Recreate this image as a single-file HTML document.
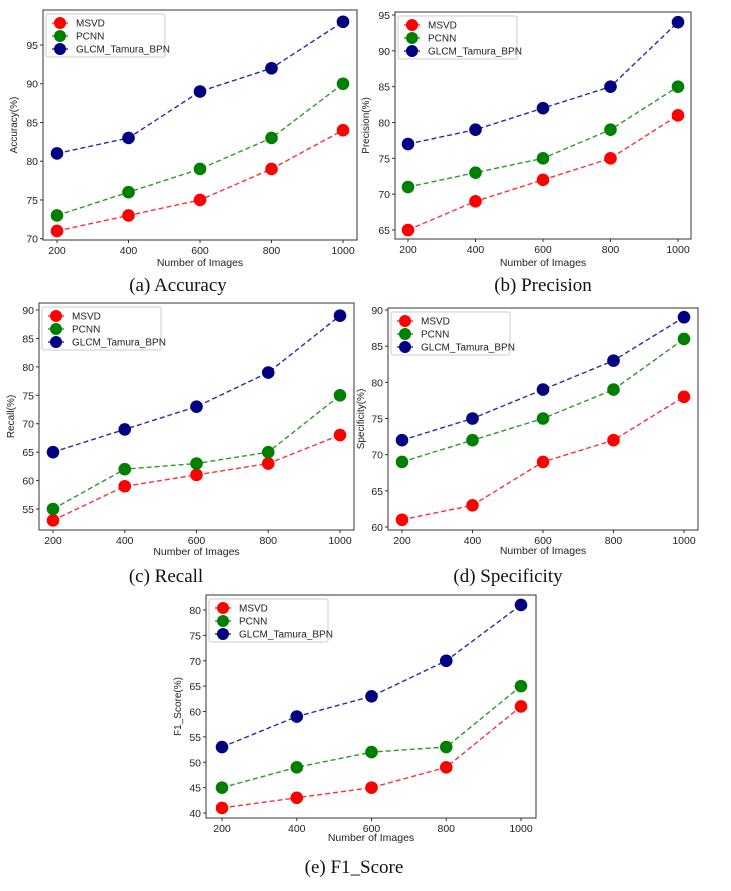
<!DOCTYPE html>
<html><head><meta charset="utf-8">
<style>
html,body{margin:0;padding:0;background:#fff;}
svg{display:block;}
</style></head>
<body>
<svg id="fig" width="731" height="891" viewBox="0 0 731 891" xmlns="http://www.w3.org/2000/svg"></svg>
<script>
const categories = [200, 400, 600, 800, 1000];
const seriesNames = ["MSVD", "PCNN", "GLCM_Tamura_BPN"];
const accMSVD = [71, 73, 75, 79, 84];
const accPCNN = [73, 76, 79, 83, 90];
const accGLCM = [81, 83, 89, 92, 98];
const accTicks = [70, 75, 80, 85, 90, 95];
const preMSVD = [65, 69, 72, 75, 81];
const prePCNN = [71, 73, 75, 79, 85];
const preGLCM = [77, 79, 82, 85, 94];
const preTicks = [65, 70, 75, 80, 85, 90, 95];
const recMSVD = [53, 59, 61, 63, 68];
const recPCNN = [55, 62, 63, 65, 75];
const recGLCM = [65, 69, 73, 79, 89];
const recTicks = [55, 60, 65, 70, 75, 80, 85, 90];
const speMSVD = [61, 63, 69, 72, 78];
const spePCNN = [69, 72, 75, 79, 86];
const speGLCM = [72, 75, 79, 83, 89];
const speTicks = [60, 65, 70, 75, 80, 85, 90];
const f1MSVD = [41, 43, 45, 49, 61];
const f1PCNN = [45, 49, 52, 53, 65];
const f1GLCM = [53, 59, 63, 70, 81];
const f1Ticks = [40, 45, 50, 55, 60, 65, 70, 75, 80];

const colors = ["#ff0000", "#008000", "#000080"];
const lineColors = ["#ff3030", "#2a9a2a", "#2a2aa8"];
const NS = "http://www.w3.org/2000/svg";
const svg = document.getElementById("fig");
function mk(tag, attrs, parent){const e=document.createElementNS(NS,tag);for(const k in attrs)e.setAttribute(k,attrs[k]);(parent||svg).appendChild(e);return e;}

function panel(id, cfg, series, ticks){
  const g = mk("g", {});
  
  
  const xs = v => cfg.x200 + (v - 200) * (cfg.x1000 - cfg.x200) / 800;
  const ys = v => cfg.yLo + (v - cfg.tLo) * (cfg.yHi - cfg.yLo) / (cfg.tHi - cfg.tLo);
  const box = mk("rect", {x:cfg.L, y:cfg.T, width:cfg.R-cfg.L, height:cfg.B-cfg.T, fill:"none", stroke:"#333", "stroke-width":1}, g);
  
  
  categories.forEach(c => {
    const x = xs(c);
    mk("line", {x1:x, x2:x, y1:cfg.B, y2:cfg.B+3, stroke:"#333"}, g);
    const t = mk("text", {x:x, y:cfg.B+14, "text-anchor":"middle", "font-size":10.5, fill:"#222", "font-family":"Liberation Sans, sans-serif"}, g);
    t.textContent = c;
    
    
  });
  ticks.forEach(v => {
    const y = ys(v);
    mk("line", {x1:cfg.L-3, x2:cfg.L, y1:y, y2:y, stroke:"#333"}, g);
    const t = mk("text", {x:cfg.L-5, y:y+4, "text-anchor":"end", "font-size":10.5, fill:"#222", "font-family":"Liberation Sans, sans-serif"}, g);
    t.textContent = v;
    
    
  });
  const xl = mk("text", {x:(cfg.L+cfg.R)/2, y:cfg.xlY, "text-anchor":"middle", "font-size":10.5, fill:"#222", "font-family":"Liberation Sans, sans-serif"}, g);
  xl.textContent = "Number of Images";
  
  
  const yc = (cfg.T+cfg.B)/2;
  const yl = mk("text", {x:cfg.ylX, y:yc, "text-anchor":"middle", "font-size":10, fill:"#222", "font-family":"Liberation Sans, sans-serif", transform:`rotate(-90 ${cfg.ylX} ${yc})`}, g);
  yl.textContent = cfg.ylabel;
  
  
  series.forEach((vals, si) => {
    const pts = vals.map((v,i) => xs(categories[i]) + "," + ys(v)).join(" ");
    const pl = mk("polyline", {points:pts, fill:"none", stroke:lineColors[si], "stroke-width":1.4, "stroke-dasharray":"5,3"}, g);
    
    
    vals.forEach((v,i) => {
      const c = mk("circle", {cx:xs(categories[i]), cy:ys(v), r:6.3, fill:colors[si]}, g);
      
      
    });
  });
  const lx = cfg.L + 3, ly = cfg.T + 4;
  const lg = mk("g", {}, g);
  
  
  mk("rect", {x:lx, y:ly, width:119, height:43, fill:"#fff", stroke:"#ccc", rx:2}, lg);
  seriesNames.forEach((n, si) => {
    const yy = ly + 9 + si * 13;
    mk("line", {x1:lx+6, x2:lx+22, y1:yy, y2:yy, stroke:lineColors[si], "stroke-width":1.4}, lg);
    mk("circle", {cx:lx+14, cy:yy, r:6, fill:colors[si]}, lg);
    const t = mk("text", {x:lx+30, y:yy+3.5, "font-size":10, fill:"#222", "font-family":"Liberation Sans, sans-serif"}, lg);
    t.textContent = n;
    
    
  });
  const cap = mk("text", {x:cfg.capX, y:cfg.capY, "text-anchor":"middle", "font-size":19, fill:"#111", "font-family":"Liberation Serif, serif"}, g);
  cap.textContent = cfg.caption;
  
  
}

panel("accuracy", {L:43,R:357,T:10,B:240,x200:57,x1000:343,yLo:238.7,tLo:70,yHi:45,tHi:95,xlY:266,ylX:17,ylabel:"Accuracy(%)",capX:178,capY:291,caption:"(a) Accuracy"}, [accMSVD,accPCNN,accGLCM], accTicks);
panel("precision", {L:395,R:691,T:12,B:239,x200:408,x1000:678,yLo:230,tLo:65,yHi:15,tHi:95,xlY:266,ylX:369,ylabel:"Precision(%)",capX:543,capY:291,caption:"(b) Precision"}, [preMSVD,prePCNN,preGLCM], preTicks);
panel("recall", {L:39,R:354,T:303,B:530,x200:53,x1000:340,yLo:509,tLo:55,yHi:310,tHi:90,xlY:555,ylX:14,ylabel:"Recall(%)",capX:166,capY:582,caption:"(c) Recall"}, [recMSVD,recPCNN,recGLCM], recTicks);
panel("specificity", {L:388,R:698,T:308,B:530,x200:402,x1000:684,yLo:527,tLo:60,yHi:310,tHi:90,xlY:554,ylX:364,ylabel:"Specificity(%)",capX:508,capY:582,caption:"(d) Specificity"}, [speMSVD,spePCNN,speGLCM], speTicks);
panel("f1-score", {L:206,R:536,T:595,B:818,x200:222,x1000:521,yLo:813,tLo:40,yHi:610,tHi:80,xlY:841,ylX:181,ylabel:"F1_Score(%)",capX:354,capY:873,caption:"(e) F1_Score"}, [f1MSVD,f1PCNN,f1GLCM], f1Ticks);
</script>
</body></html>
